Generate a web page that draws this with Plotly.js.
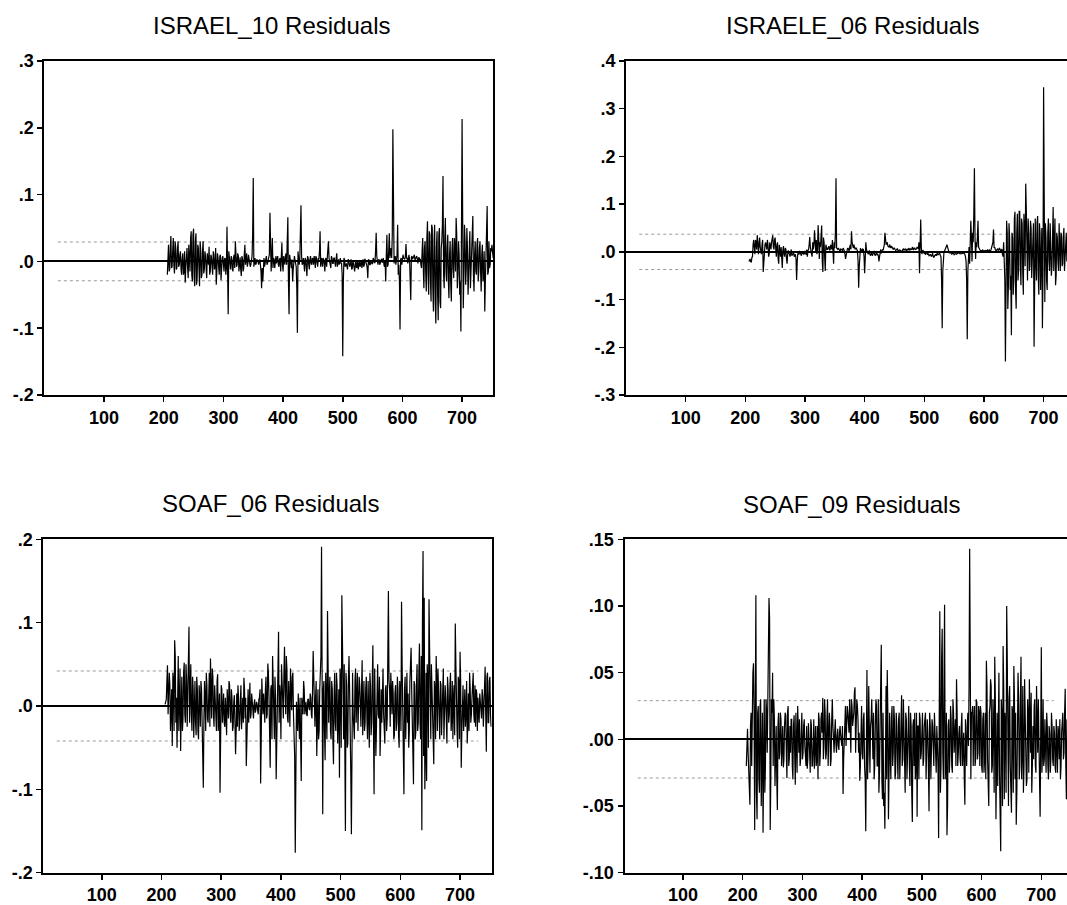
<!DOCTYPE html>
<html>
<head>
<meta charset="utf-8">
<script src="https://cdn.plot.ly/plotly-3.0.1.min.js"></script>
<style>html,body{margin:0;padding:0;background:#fff;}#chart{width:1067px;height:905px;}</style>
</head>
<body>
<div id="chart"></div>
<script>
// ---- Data: residuals in thousandths ----
// "Even" arrays hold observations 206, 208, ..., 752; "Odd" arrays hold 207, 209, ..., 751.
const obsFirst = 206;

const titles = ["ISRAEL_10 Residuals", "ISRAELE_06 Residuals", "SOAF_06 Residuals", "SOAF_09 Residuals"];

const israel10EvenMilli = [
 -20,25,-12,38,-8,35,-18,22,-10,30,
 -5,15,-20,12,-15,-32,8,-10,25,-15,
 45,-30,49,-37,42,-25,20,-37,15,-20,
 30,-12,8,-25,5,22,-15,6,-20,10,
 -8,-35,12,-15,8,-28,5,-12,4,-20,
 52,-79,8,-12,5,-15,10,30,-8,12,
 -15,6,-22,4,-10,25,3,-8,10,2,
 -5,8,125,2,-5,3,0,2,-5,-40,
 -30,5,2,8,-3,5,73,-15,35,5,
 -10,8,2,-5,3,-15,28,-15,3,8,
 -5,66,-79,5,-10,-30,5,2,-8,-107,
 8,3,84,-5,5,-15,3,-22,5,-12,
 8,-5,3,8,-10,5,-8,3,45,5,
 -8,3,-15,5,8,30,2,-10,5,-3,
 5,-8,12,2,-5,5,-3,-142,5,-8,
 -3,-12,2,-8,3,-10,-3,-15,2,-8,
 -12,0,-5,-10,3,-6,2,-5,-25,2,
 -5,0,-3,3,-2,43,-3,2,-5,3,
 -2,5,-8,-30,40,-5,42,10,5,198,
 -3,8,2,55,-5,-102,5,8,5,3,
 26,5,8,2,-58,8,5,10,5,8,
 -3,6,4,-10,35,-40,30,-45,60,-50,
 40,-60,50,-75,55,-93,45,-88,50,-70,
 30,128,-40,65,-30,40,-55,30,-60,35,
 -25,20,65,-40,30,-50,-105,213,-70,55,
 -35,50,-50,25,-40,30,68,-45,30,-20,
 35,-15,30,-45,25,-20,-75,10,83,-15,
 -10,20,25,5
];
const israel10OddMilli = [
 10,-15,20,-10,15,-5,30,-12,18,-8,
 10,-12,5,-20,15,-8,20,-25,10,35,
 -20,40,-25,30,-35,25,-10,30,-25,15,
 -18,15,-10,12,-5,-20,10,-8,15,-12,
 20,-15,5,-20,10,-5,8,-15,5,-10,
 -30,15,-5,8,-12,5,-10,12,-5,8,
 5,-12,8,-15,10,-5,12,-3,5,-8,
 3,40,-8,5,-3,2,-5,3,-15,-10,
 5,-8,3,-5,2,10,25,8,-10,3,
 5,-3,8,-8,5,10,-5,8,-5,12,
 20,-30,10,-5,3,-12,8,-5,-40,15,
 -5,30,8,-3,-8,5,-10,8,-5,3,
 -3,5,-5,3,8,-3,5,15,-8,3,
 5,-5,3,-8,10,5,-5,8,-3,5,
 -3,5,-8,3,5,-3,-20,-30,3,-5,
 -8,3,-5,-2,-12,2,-6,-3,-10,2,
 -5,-8,2,-3,-8,4,-2,-10,3,-5,
 2,-4,5,-2,15,8,-5,3,-2,4,
 3,-5,2,10,-8,15,5,20,40,10,
 5,-5,10,-20,-30,3,-5,10,4,8,
 5,-3,10,-20,6,3,8,2,6,3,
 5,2,-5,15,-10,20,-15,35,-20,45,
 -30,55,-40,30,-60,20,-50,40,-60,20,
 55,-20,35,-15,20,-30,10,-35,15,-10,
 35,-15,40,-20,10,-30,40,60,-20,30,
 -10,20,-20,45,-15,40,-20,10,-15,25,
 -30,20,-15,10,-30,15,-30,40,-20,30,
 -5,15,10
];

const israele06EvenMilli = [
 -20,-15,-22,-10,25,-5,20,35,-5,30,
 5,15,-42,10,20,5,15,-5,10,20,
 35,5,30,-10,20,-25,5,10,-34,12,
 -10,5,-25,3,-5,2,-8,-3,-10,-5,
 -59,-3,-5,-2,-8,-3,-5,2,-6,-10,
 5,31,-3,-10,5,45,2,-5,56,-15,
 10,55,-42,20,-40,8,5,12,3,10,
 25,-25,8,154,5,8,3,6,4,8,
 2,-15,5,8,2,15,43,10,15,5,
 8,2,-75,5,3,2,5,-45,20,2,
 -5,3,-8,-3,-5,2,-8,-3,-5,-20,
 2,-3,5,8,40,15,20,10,15,8,
 10,5,8,3,6,2,5,3,-2,5,
 3,6,2,5,8,3,6,10,4,8,
 5,10,6,-45,68,-5,3,-3,-5,0,
 -3,-8,-5,-10,-3,-12,-6,-8,-2,-5,
 -3,-10,-160,-5,2,8,15,5,-3,-2,
 -5,-3,-6,-2,-5,-3,-2,-4,-1,-3,
 -2,-5,-20,-183,-10,-25,65,-20,20,175,
 -15,10,65,5,3,2,4,1,3,2,
 4,2,3,5,15,47,10,2,5,3,
 8,2,6,-10,-40,-230,65,-120,60,-80,
 -175,30,-60,84,-119,80,-40,85,-70,60,
 -90,50,143,-50,70,-40,65,-55,30,-199,
 70,-60,75,-90,40,-30,-160,345,-105,30,
 -80,70,-40,25,-30,94,20,-70,40,-20,
 60,-40,35,-25,50,-10,40,-15,25,-10,
 20,-5,10,-8
];
const israele06OddMilli = [
 -18,-20,-12,15,10,25,5,20,15,10,
 -5,25,-20,15,5,25,-10,20,5,30,
 10,25,5,15,-15,15,-10,-20,5,-5,
 8,-15,-5,-3,-10,5,-6,-2,-8,-15,
 -20,-5,2,-5,-3,0,-4,-3,5,3,
 15,10,-5,20,15,10,25,5,30,20,
 35,-20,30,-10,15,5,8,5,15,5,
 -10,20,40,8,5,4,2,5,3,6,
 -5,-8,6,4,10,5,20,8,12,8,
 5,-20,-30,8,4,6,-10,-15,5,-3,
 -2,-6,-4,-8,-2,-6,-4,-6,-8,-10,
 5,0,3,15,25,18,12,10,8,12,
 6,8,5,4,7,3,4,2,3,6,
 5,4,6,3,5,7,4,6,8,5,
 7,8,20,15,10,2,-2,-5,0,-6,
 -5,-7,-8,-6,-10,-9,-5,-4,-6,-3,
 -8,-60,-40,0,5,12,10,2,0,-4,
 -4,-2,-5,-3,-4,-2,-3,-2,-4,-2,
 -4,-10,-60,-40,10,20,30,40,80,30,
 20,30,10,5,2,3,1,2,3,2,
 3,4,2,10,20,8,5,3,6,4,
 5,4,-5,20,-60,-100,40,-70,30,-50,
 40,-90,70,-80,40,-60,85,-30,70,-40,
 80,-30,90,-60,40,-30,50,-20,60,-70,
 -20,60,-50,60,-80,50,-40,120,60,-60,
 40,-20,60,-50,50,-40,70,-50,30,-40,
 20,40,-30,30,-40,30,-20,20,-30,40,
 -15,15,-20
];

const soaf06EvenMilli = [
 2,8,49,12,25,-5,-48,30,79,-20,
 -50,60,10,-54,35,-15,52,-20,30,10,
 95,25,-10,35,-38,30,-35,20,-40,10,
 30,-20,-98,30,-30,25,-20,40,57,-15,
 35,-25,10,-30,38,-10,-104,25,-20,15,
 -25,-30,20,-15,25,-20,10,-25,13,-58,
 15,25,-30,5,-28,10,34,-15,-72,5,
 -20,28,-10,5,-15,8,-5,3,-10,10,
 -93,33,-10,-5,20,-15,51,10,-74,25,
 60,-20,35,-88,30,89,25,-40,20,-15,
 71,-10,45,-20,10,45,-5,40,-30,-176,
 5,-30,-20,10,-90,-10,30,-10,5,-12,
 8,-5,10,-15,66,-20,10,-60,20,-30,
 40,191,-130,30,-65,10,114,-20,35,-40,
 20,-70,40,-30,25,-20,-86,30,133,-20,
 50,-150,25,-45,60,-20,-154,40,-30,30,
 -20,40,-10,25,-25,55,10,-30,20,-15,
 30,-50,25,-20,73,-106,10,-25,50,-15,
 -60,20,30,-10,-45,25,-15,138,20,40,
 -10,15,-35,25,-20,20,-50,15,125,-20,
 -106,35,10,-20,-50,30,70,-20,-94,25,
 -30,50,-20,75,-40,-149,186,130,-60,-90,
 30,128,-20,50,-40,-70,20,60,-30,15,
 -40,25,-15,45,-20,10,-45,20,-10,40,
 -15,-40,25,99,-20,-50,30,65,-74,10,
 -30,20,-10,-45,15,40,-20,10,40,-20,
 -25,15,10,-20,5,-15,10,-5,47,-55,
 40,-20,35,-25
];
const soaf06OddMilli = [
 5,30,-10,40,-30,20,40,-30,60,10,
 40,-30,45,20,-30,40,-10,50,-25,60,
 -20,50,-30,20,10,-20,35,-30,25,-25,
 20,-50,-20,10,40,-15,10,-25,20,45,
 -10,25,-20,30,-30,15,-50,20,-5,-20,
 10,-35,-10,30,-10,20,-30,5,-20,-30,
 -25,10,-20,25,-10,-20,20,10,-30,20,
 5,-15,15,-5,2,-8,5,-5,8,20,
 -40,10,15,-20,35,-10,40,-30,20,-40,
 30,-40,10,-30,50,-20,10,50,-10,40,
 20,60,-15,30,-25,20,35,-10,-60,-20,
 -15,15,-40,-30,10,-10,20,-5,-10,8,
 -3,15,-10,20,35,-25,30,-20,-40,20,
 60,-60,20,-30,40,-40,50,15,-30,30,
 -40,10,-20,40,-45,20,45,-50,80,-40,
 -60,40,-50,30,20,-80,20,-10,-40,45,
 20,-30,35,-10,20,-35,30,-20,35,-40,
 -20,40,-35,30,-30,45,-60,30,-10,35,
 -30,-20,45,-40,20,-30,60,30,-25,20,
 30,-40,15,-30,35,-35,30,-30,50,-60,
 20,-40,40,15,-30,60,20,-60,30,-40,
 25,-30,40,-20,60,100,-60,-100,40,50,
 -50,70,-40,20,-50,30,-40,30,45,-20,
 30,-35,30,-40,25,-30,35,-20,25,-30,
 30,10,-35,50,-30,35,-40,30,-30,25,
 10,-25,30,-20,-30,20,-10,35,-10,25,
 20,-30,-10,15,-10,20,-25,20,-10,35,
 -20,30,-10
];

const soaf09EvenMilli = [
 -20,8,-22,-49,20,25,57,-68,108,-60,
 25,-40,30,-10,-70,30,-20,20,55,106,
 -68,30,50,30,-35,10,-53,20,-10,15,
 -5,-21,10,18,-29,25,-15,-10,15,-30,
 18,-34,-15,25,-10,-20,5,-15,10,-5,
 -20,-22,12,-10,15,-20,-5,-22,10,-15,
 -30,15,-10,20,31,-5,20,-10,30,-5,
 10,-15,30,-5,5,-3,2,-5,5,3,
 -5,-41,5,25,10,20,5,15,30,10,
 20,39,10,25,-10,-31,20,-10,15,-20,
 -69,52,-10,-20,10,30,-15,-30,10,25,
 -20,-40,10,71,-45,-50,-67,40,52,-60,
 20,-30,25,-10,15,-25,10,-30,20,-10,
 33,-15,10,-40,15,-10,25,-35,10,-62,
 15,20,-20,-58,10,20,-15,5,-20,10,
 20,-10,5,-54,10,-5,10,-20,5,-25,
 -10,-74,96,-20,83,-30,101,-20,-72,10,
 -25,25,-20,30,-10,15,45,-20,5,-15,
 10,-20,5,-49,-10,10,-5,143,-30,20,
 -20,25,-15,28,-10,20,25,-20,15,-25,
 20,59,-15,-50,25,40,-20,10,62,-60,
 20,40,-25,-84,15,70,-45,10,100,-30,
 30,-20,-55,20,55,-30,-64,10,30,-20,
 62,-10,-40,45,-15,-30,20,45,-10,-40,
 10,25,-20,40,-10,-20,-58,69,-10,-20,
 15,-25,10,-30,5,-15,10,-20,5,-25,
 -10,10,-15,-30,5,20,-10,38,-45,10,
 -20,15,-35,5
];
const soaf09OddMilli = [
 5,-10,-30,10,-20,50,20,90,-40,20,
 -30,25,-50,20,10,-40,30,-10,40,90,
 -30,20,-20,15,-20,-30,10,-15,20,-20,
 10,-15,20,-10,20,-20,10,15,-20,10,
 -10,20,-25,10,15,-15,20,-10,15,-20,
 10,-15,5,-25,10,-20,15,-10,-20,10,
 20,-20,15,5,-15,30,-15,15,-20,20,
 -20,15,10,-10,15,-10,8,-8,10,-5,
 10,-15,20,-5,25,10,30,-10,25,15,
 35,-10,30,15,5,-20,25,-15,20,-30,
 20,-30,40,-25,15,-15,20,-20,30,-20,
 30,-25,40,-30,20,-40,30,-30,20,-25,
 -10,15,-20,25,-30,20,-15,15,-30,25,
 -20,30,-25,20,-30,10,-20,20,-40,10,
 -20,-30,20,10,-30,15,-10,20,-15,15,
 -30,15,-20,20,-30,15,-15,20,-15,10,
 -20,30,-40,60,-10,40,-30,20,-50,15,
 -10,15,-25,20,5,-20,20,-10,10,-20,
 20,-10,-30,15,-20,20,40,10,20,25,
 15,-20,30,-15,25,-20,20,-25,20,-15,
 -30,40,-35,20,45,-25,30,-40,30,-20,
 -35,50,-60,30,-50,40,20,-40,60,-50,
 40,-45,25,-40,30,20,-40,50,-30,30,
 -30,40,-20,25,-35,30,-25,15,35,-20,
 -15,30,-25,15,30,-30,20,-25,30,-15,
 -10,20,-20,10,-25,20,-15,10,-20,15,
 -25,5,15,-20,10,-15,20,-20,15,-30,
 10,-20,25
];

// +/- standard-error band levels (dotted lines)
const seBands = [0.029, 0.037, 0.042, 0.029];

// tick labels
const xTickVals = [100, 200, 300, 400, 500, 600, 700];
const xTickText = ["100", "200", "300", "400", "500", "600", "700"];
const yTickVals = [
  [-0.2, -0.1, 0, 0.1, 0.2, 0.3],
  [-0.3, -0.2, -0.1, 0, 0.1, 0.2, 0.3, 0.4],
  [-0.2, -0.1, 0, 0.1, 0.2],
  [-0.10, -0.05, 0, 0.05, 0.10, 0.15]
];
const yTickText = [
  ["-.2", "-.1", ".0", ".1", ".2", ".3"],
  ["-.3", "-.2", "-.1", ".0", ".1", ".2", ".3", ".4"],
  ["-.2", "-.1", ".0", ".1", ".2"],
  ["-.10", "-.05", ".00", ".05", ".10", ".15"]
];

// ---- Layout geometry ----
const W = 1067, H = 905;
const panels = [
  {px0: 44.4, px1: 493, py0: 61, py1: 395, xr: [0, 751.8], yr: [-0.2, 0.3], tx: 271, ty: 25},
  {px0: 626, px1: 1067, py0: 61, py1: 395, xr: [0, 739.2], yr: [-0.3, 0.4], tx: 852, ty: 25},
  {px0: 43.3, px1: 491.7, py0: 539.3, py1: 872.7, xr: [2, 753], yr: [-0.2, 0.2], tx: 270, ty: 503},
  {px0: 624.5, px1: 1067, py0: 539.3, py1: 872.7, xr: [2, 743], yr: [-0.10, 0.15], tx: 851, ty: 504}
];
const series = [
  [israel10EvenMilli, israel10OddMilli],
  [israele06EvenMilli, israele06OddMilli],
  [soaf06EvenMilli, soaf06OddMilli],
  [soaf09EvenMilli, soaf09OddMilli]
];

const tickFont = {family: "Liberation Sans, Arial, sans-serif", size: 18, color: "#000", weight: 700};
const traces = [];
const layout = {
  width: W, height: H,
  margin: {l: 0, r: 0, t: 0, b: 0},
  paper_bgcolor: "#fff", plot_bgcolor: "#fff",
  showlegend: false,
  shapes: [], annotations: []
};

series.forEach(([even, odd], k) => {
  const n = k + 1;
  const sfx = n === 1 ? "" : String(n);
  const xs = [], ys = [];
  even.forEach((v, i) => {
    xs.push(obsFirst + 2 * i); ys.push(v / 1000);
    if (i < odd.length) { xs.push(obsFirst + 2 * i + 1); ys.push(odd[i] / 1000); }
  });
  traces.push({
    type: "scatter", mode: "lines",
    x: xs, y: ys,
    xaxis: "x" + sfx, yaxis: "y" + sfx,
    line: {color: "#000", width: 1.2},
    hoverinfo: "skip"
  });
  const p = panels[k];
  layout["xaxis" + sfx] = {
    domain: [p.px0 / W, p.px1 / W],
    range: p.xr,
    anchor: "y" + sfx,
    tickmode: "array", tickvals: xTickVals, ticktext: xTickText,
    ticks: "outside", ticklen: 5, tickwidth: 1.5, tickcolor: "#000",
    showline: true, mirror: true, linecolor: "#000", linewidth: 2,
    showgrid: false, zeroline: false,
    tickfont: tickFont
  };
  layout["yaxis" + sfx] = {
    domain: [1 - p.py1 / H, 1 - p.py0 / H],
    range: p.yr,
    anchor: "x" + sfx,
    tickmode: "array", tickvals: yTickVals[k], ticktext: yTickText[k],
    ticks: "outside", ticklen: 5, tickwidth: 1.5, tickcolor: "#000",
    showline: true, mirror: true, linecolor: "#000", linewidth: 2,
    showgrid: false,
    zeroline: true, zerolinecolor: "#000", zerolinewidth: 2,
    tickfont: tickFont
  };
  [seBands[k], -seBands[k]].forEach(lv => {
    layout.shapes.push({
      type: "line", layer: "below",
      xref: "x" + sfx + " domain", x0: 0.03, x1: 0.97,
      yref: "y" + sfx, y0: lv, y1: lv,
      line: {color: "#999999", width: 1, dash: "dot"}
    });
  });
  layout.annotations.push({
    xref: "paper", yref: "paper",
    x: p.tx / W, y: 1 - p.ty / H,
    xanchor: "center", yanchor: "middle",
    text: titles[k], showarrow: false,
    font: {family: "Liberation Sans, Arial, sans-serif", size: 24, color: "#000"}
  });
});

Plotly.newPlot("chart", traces, layout, {staticPlot: true, displayModeBar: false});
</script>
</body>
</html>
